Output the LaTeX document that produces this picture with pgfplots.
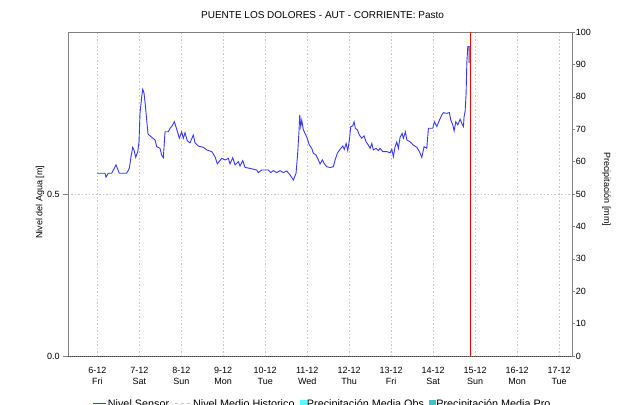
\documentclass[border=0pt]{standalone}
\usepackage{pgfplots}
\pgfplotsset{compat=1.18}
\usepackage{fontspec}
\setmainfont{Liberation Sans}
\definecolor{sensor}{RGB}{55,55,255}
\definecolor{gridc}{RGB}{200,200,200}
\definecolor{framec}{RGB}{128,128,128}
\definecolor{obs}{RGB}{90,255,255}
\definecolor{pro}{RGB}{64,196,196}
\definecolor{histc}{RGB}{200,200,200}

\pgfplotstableread{
d v
0.000 0.564
0.183 0.564
0.207 0.552
0.262 0.564
0.343 0.564
0.446 0.590
0.524 0.564
0.700 0.564
0.762 0.579
0.803 0.615
0.843 0.644
0.874 0.636
0.915 0.613
0.963 0.631
0.994 0.661
1.017 0.749
1.058 0.800
1.082 0.823
1.113 0.811
1.144 0.775
1.177 0.728
1.208 0.685
1.296 0.675
1.375 0.667
1.415 0.646
1.494 0.641
1.534 0.620
1.573 0.612
1.613 0.692
1.692 0.692
1.732 0.703
1.773 0.708
1.835 0.723
1.892 0.700
1.954 0.672
2.011 0.692
2.049 0.672
2.090 0.689
2.144 0.664
2.209 0.658
2.287 0.682
2.328 0.658
2.406 0.648
2.526 0.644
2.607 0.636
2.726 0.631
2.804 0.615
2.859 0.593
2.964 0.610
3.043 0.605
3.121 0.610
3.162 0.593
3.226 0.612
3.281 0.590
3.360 0.600
3.400 0.586
3.464 0.603
3.519 0.582
3.638 0.579
3.798 0.574
3.836 0.566
3.917 0.574
4.074 0.574
4.132 0.566
4.193 0.572
4.274 0.566
4.353 0.572
4.432 0.566
4.513 0.571
4.591 0.559
4.670 0.543
4.734 0.564
4.770 0.620
4.806 0.698
4.822 0.744
4.846 0.708
4.870 0.728
4.908 0.698
4.989 0.676
5.051 0.651
5.108 0.641
5.146 0.626
5.211 0.620
5.266 0.605
5.306 0.593
5.361 0.605
5.409 0.593
5.466 0.584
5.544 0.582
5.623 0.584
5.664 0.605
5.718 0.626
5.783 0.638
5.847 0.648
5.885 0.638
5.926 0.656
5.966 0.634
6.004 0.667
6.038 0.708
6.085 0.710
6.116 0.723
6.147 0.703
6.195 0.698
6.243 0.682
6.300 0.672
6.355 0.679
6.402 0.661
6.457 0.651
6.498 0.641
6.538 0.656
6.576 0.636
6.640 0.641
6.695 0.634
6.736 0.641
6.800 0.631
6.895 0.631
6.974 0.627
7.015 0.638
7.053 0.615
7.093 0.646
7.134 0.661
7.172 0.641
7.212 0.675
7.260 0.687
7.291 0.672
7.339 0.692
7.372 0.667
7.451 0.661
7.529 0.651
7.610 0.644
7.672 0.631
7.729 0.613
7.784 0.646
7.848 0.641
7.887 0.703
7.991 0.703
8.030 0.723
8.087 0.708
8.149 0.728
8.206 0.744
8.244 0.751
8.325 0.749
8.387 0.751
8.420 0.728
8.468 0.713
8.499 0.695
8.539 0.723
8.587 0.713
8.642 0.731
8.682 0.718
8.721 0.708
8.737 0.739
8.761 0.754
8.785 0.811
8.802 0.904
8.825 0.955
8.856 0.955
8.856 0.904
}\sensordata

\begin{document}
\begin{tikzpicture}[x=1pt,y=1pt]
\pgfplotsset{every axis/.append style={
  scale only axis, width=504pt, height=324pt,
  at={(67.7pt,48pt)}, anchor=south west,
  xmin=-0.705, xmax=11.30,
  /pgf/number format/assume math mode=true,
  tick label style={font=\fontsize{9}{11.5}\selectfont},
  label style={font=\fontsize{9}{11}\selectfont},
}}
\begin{axis}[
  ymin=0, ymax=1,
  axis line style={framec},
  xtick={0,1,2,3,4,5,6,7,8,9,10,11},
  xticklabels={{6-12\\Fri},{7-12\\Sat},{8-12\\Sun},{9-12\\Mon},{10-12\\Tue},{11-12\\Wed},{12-12\\Thu},{13-12\\Fri},{14-12\\Sat},{15-12\\Sun},{16-12\\Mon},{17-12\\Tue}},
  xticklabel style={align=center, yshift=-3pt},
  major x tick style={draw=none},
  ytick={0,0.5}, yticklabels={0.0,0.5},
  ytick pos=left, xtick pos=bottom,
  tick align=outside, major tick length=4.5pt,
  major y tick style={framec},
  xmajorgrids, ymajorgrids,
  grid style={gridc, dash pattern=on 1.5pt off 2pt},
  ylabel={Nivel del Agua [m]},
  ylabel style={at={(axis description cs:-0.055,0.474)}, anchor=center},
  title={PUENTE LOS DOLORES - AUT - CORRIENTE: Pasto},
  title style={at={(axis description cs:0.5056,1)}, anchor=base, yshift=7pt, font=\fontsize{10}{12}\selectfont},
  legend columns=4,
  legend style={at={(axis description cs:0,0)}, anchor=north west, xshift=22pt, yshift=-40pt,
    draw=none, fill=none, font=\fontsize{10.8}{12}\selectfont,
    /tikz/every even column/.append style={column sep=4pt},
    nodes={inner sep=1pt}},
  legend cell align=left,
]
\addplot[sensor, line width=0.9pt, legend image code/.code={\draw[sensor, line width=1pt] (0pt,0pt) -- (13pt,0pt);}] table[x=d, y=v] {\sensordata};
\addlegendentry{Nivel Sensor}
\addlegendimage{legend image code/.code={\draw[histc, line width=1pt, dash pattern=on 3pt off 3pt] (0pt,0pt) -- (17pt,0pt);}}
\addlegendentry{Nivel Medio Historico}
\addlegendimage{legend image code/.code={\fill[obs] (0pt,-3pt) rectangle (6pt,3.5pt);}}
\addlegendentry{Precipitación Media Obs}
\addlegendimage{legend image code/.code={\fill[pro] (0pt,-3pt) rectangle (6pt,3.5pt);}}
\addlegendentry{Precipitación Media Pro}
\addplot[forget plot, black!75, line width=0.8pt, dash pattern=on 1pt off 1pt] coordinates {(-0.705,0) (11.30,0)};
\addplot[forget plot, red, line width=0.9pt] coordinates {(8.88,0) (8.88,1)};
\end{axis}
\begin{axis}[
  ymin=0, ymax=100, ytick distance=10,
  axis y line*=right, axis x line=none,
  y axis line style={framec},
  tick align=outside, major tick length=3pt,
  major y tick style={framec},
  yticklabel style={inner sep=1pt},
  ylabel={Precipitación [mm]},
  ylabel style={at={(axis description cs:1.069,0.515)}, anchor=center, rotate=180},
]
\addplot[draw=none, forget plot] coordinates {(0,0) (1,0)};
\end{axis}
\pgfresetboundingbox
\path[use as bounding box] (0,0) rectangle (620,404);
\end{tikzpicture}
\end{document}
